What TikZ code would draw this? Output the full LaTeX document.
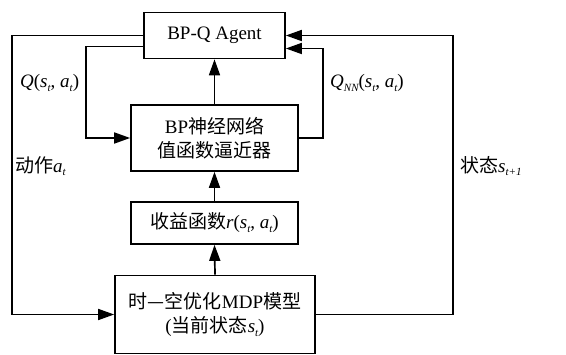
\documentclass[tikz,border=0pt]{standalone}
\usepackage{fontspec}
\setmainfont{Liberation Serif}
\newfontfamily\cjk{Noto Sans CJK SC}
\usetikzlibrary{arrows.meta}
\newcommand\lowsub[1]{\raisebox{-0.4ex}{\fontsize{11}{11}\selectfont\itshape #1}}
\newcommand\iv[1]{\textit{#1}}
\begin{document}
\begin{tikzpicture}[x=1pt,y=-1pt,
  box/.style={draw,line width=1.7pt,align=center,inner sep=0pt,font=\fontsize{19}{24}\selectfont},
  arr/.style={line width=1.7pt,-{Triangle[length=16pt,width=11pt]}},
  lbl/.style={anchor=west,inner sep=0pt,font=\fontsize{19}{24}\selectfont}]
\useasboundingbox (0,0) rectangle (566,355);
\node[box,minimum width=141pt,minimum height=46pt] (agent) at (214.5,35.5) {BP-Q Agent};
\node[box,minimum width=167pt,minimum height=66pt] (nn) at (214.5,138) {BP{\cjk 神经网络}\\{\cjk 值函数逼近器}};
\node[box,minimum width=167pt,minimum height=42pt] (reward) at (214.5,223) {{\cjk 收益函数}\iv{r}(\iv{s}\lowsub{t}, \iv{a}\lowsub{t})};
\node[box,minimum width=200pt,minimum height=78pt] (mdp) at (215,314.5) {{\cjk 时—空优化}MDP{\cjk 模型}\\({\cjk 当前状态}\iv{s}\lowsub{t})};
\draw[arr] (agent.west) -- ++(-131,0) |- (mdp.west);
\draw[arr] (mdp.east) -- ++(137,0) |- (agent.east);
\draw[arr] ([yshift=-11pt]agent.west) -- ++(-57,0) |- (nn.west);
\draw[arr] (nn.east) -- ++(24,0) |- ([yshift=-13pt]agent.east);
\draw[arr] (nn.north) -- (agent.south);
\draw[arr] (reward.north) -- (nn.south);
\draw[arr] (mdp.north) -- (reward.south);
\node[lbl] (lq) at (20,83) {\iv{Q}(\iv{s}\lowsub{t}, \iv{a}\lowsub{t})};
\node[lbl] (lqnn) at (330,83) {\iv{Q}\lowsub{NN}(\iv{s}\lowsub{t}, \iv{a}\lowsub{t})};
\node[lbl] (la) at (15,166) {{\cjk 动作}\iv{a}\lowsub{t}};
\node[lbl] (ls) at (460,166) {{\cjk 状态}\iv{s}\lowsub{t+1}};
\end{tikzpicture}
\end{document}
